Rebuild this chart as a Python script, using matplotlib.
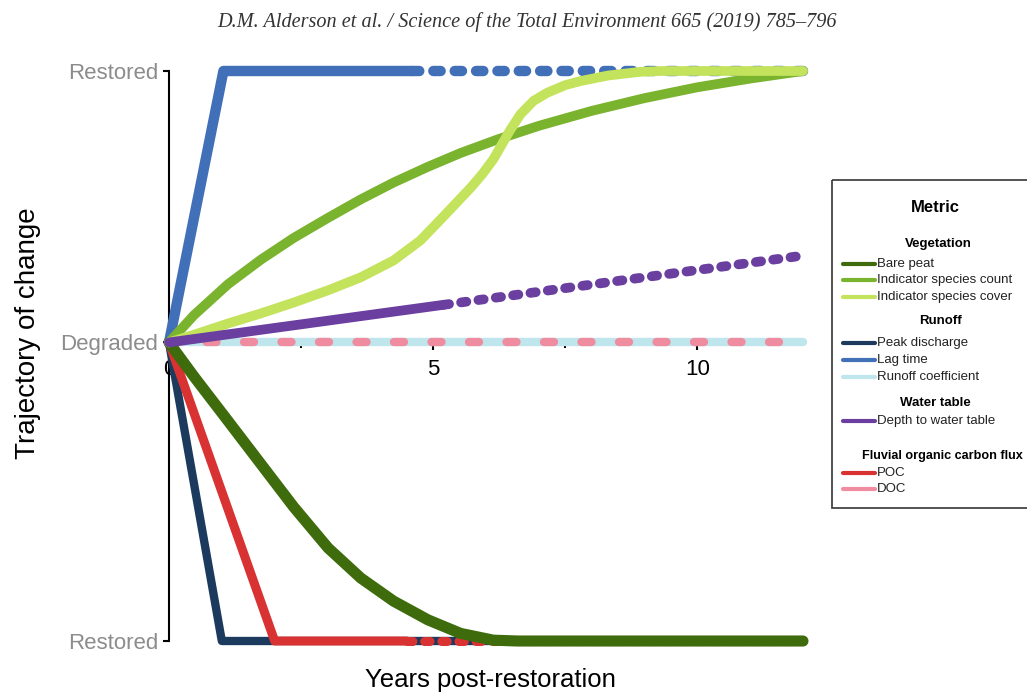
import numpy as np
import matplotlib.pyplot as plt
from matplotlib.patches import Rectangle

plt.rcParams['font.family'] = ['Liberation Sans', 'DejaVu Sans']

# --- data (0 = degraded, +1 / -1.1 = restored) ---
x_ticks = [0, 5, 10]
x_minor = [2.5, 7.5]
y_ticks = [-1.1, 0, 1]
y_labels = ['Restored', 'Degraded', 'Restored']

bare_peat_x = [0, 0.47, 1.12, 1.74, 2.36, 3.01, 3.63, 4.25, 4.90, 5.52, 6.14, 6.6, 12]
bare_peat_y = [0, -0.125, -0.29, -0.448, -0.606, -0.757, -0.868, -0.953, -1.022, -1.072, -1.097, -1.1, -1.1]

count_x = [0, 0.47, 1.12, 1.74, 2.36, 3.01, 3.63, 4.25, 4.90, 5.52, 6.22, 7.0, 8.0, 9.0, 10.0, 11.0, 12]
count_y = [0, 0.1, 0.215, 0.305, 0.385, 0.459, 0.527, 0.589, 0.647, 0.698, 0.748, 0.798, 0.853, 0.9, 0.94, 0.972, 1.0]

cover_x = [0, 0.5, 1.12, 1.74, 2.36, 3.01, 3.63, 4.25, 4.76, 5.20, 5.71, 5.93, 6.14, 6.45, 6.65, 6.9, 7.16, 7.5, 7.79, 8.3, 8.92, 9.3, 12]
cover_y = [0, 0.03, 0.07, 0.107, 0.147, 0.192, 0.24, 0.302, 0.376, 0.465, 0.57, 0.62, 0.675, 0.78, 0.84, 0.89, 0.92, 0.948, 0.963, 0.983, 0.997, 1.0, 1.0]

peak_x = [0, 1, 12]
peak_y = [0, -1.1, -1.1]

lag_x = [0, 1.03, 12]
lag_y = [0, 1, 1]
lag_obs_end = 4.6

runoff_x = [0, 12]
runoff_y = [0, 0]

depth_x = [0, 12]
depth_y = [0, 0.32]
depth_obs_end = 5.2

poc_x = [0, 2, 12]
poc_y = [0, -1.1, -1.1]
poc_obs_end = 4.5

doc_x = [0, 12]
doc_y = [0, 0]

c_bare = '#3e6b0c'
c_count = '#7ab32e'
c_cover = '#c4e35c'
c_peak = '#1c3a5e'
c_lag = '#4170b8'
c_runoff = '#bfe6ec'
c_depth = '#6a3fa0'
c_poc = '#d93232'
c_doc = '#f08ca0'

fig = plt.figure(figsize=(10.27, 6.93), dpi=100)
ax = fig.add_axes([169 / 1027, 52 / 693, 634 / 1027, 570 / 693])


def draw(x, y, color, lw, obs_end=None, dash=(0.5, 1.5)):
    x = np.asarray(x, float)
    y = np.asarray(y, float)
    kw = dict(color=color, lw=lw, clip_on=False, zorder=3,
              solid_capstyle='round', solid_joinstyle='round')
    if obs_end is None:
        ax.plot(x, y, **kw)
        return
    # solid for the observed part, dashed afterwards
    yb = np.interp(obs_end, x, y)
    m = x < obs_end
    ax.plot(np.r_[x[m], obs_end], np.r_[y[m], yb], **kw)
    ax.plot(np.r_[obs_end, x[~m]], np.r_[yb, y[~m]], linestyle=(0, dash),
            dash_capstyle='round', **kw)


draw(peak_x, peak_y, c_peak, 6)
draw(lag_x, lag_y, c_lag, 7.5, lag_obs_end, dash=(0.7, 1.35))
draw(runoff_x, runoff_y, c_runoff, 6)
draw(poc_x, poc_y, c_poc, 6.5, poc_obs_end, dash=(0.6, 1.3))
ax.plot(doc_x, doc_y, color=c_doc, lw=6, linestyle=(0, (1.2, 3.3)),
        dash_capstyle='round', clip_on=False, zorder=3)
draw(bare_peat_x, bare_peat_y, c_bare, 8)
draw(count_x, count_y, c_count, 7)
draw(cover_x, cover_y, c_cover, 7)
draw(depth_x, depth_y, c_depth, 7, depth_obs_end, dash=(0.55, 1.25))

# axes
ax.set_xlim(0, 12)
ax.set_ylim(-1.1, 1)
ax.set_axisbelow(True)
for s in ['top', 'right']:
    ax.spines[s].set_visible(False)
ax.spines['left'].set_bounds(-1.1, 1)
ax.spines['bottom'].set_position(('data', 0))
ax.spines['bottom'].set_bounds(0, 12)
for s in ['left', 'bottom']:
    ax.spines[s].set_linewidth(1.5)
    ax.spines[s].set_capstyle('projecting')

ax.set_xticks(x_ticks, [str(t) for t in x_ticks])
ax.set_xticks(x_minor, minor=True)
ax.tick_params(axis='x', which='major', length=6, width=1.5, labelsize=16, pad=6)
ax.tick_params(axis='x', which='minor', length=4, width=1.5)
ax.set_yticks(y_ticks, y_labels)
ax.tick_params(axis='y', length=4, width=1.5, labelsize=16, labelcolor='#8c8c8c', pad=4)

fig.text(28 / 1027, 1 - 333 / 693, 'Trajectory of change', rotation=90,
         ha='center', va='center', fontsize=20)
fig.text(490 / 1027, 1 - 680 / 693, 'Years post-restoration',
         ha='center', va='center', fontsize=18.5)
fig.text(527 / 1027, 1 - 22 / 693,
         'D.M. Alderson et al. / Science of the Total Environment 665 (2019) 785\u2013796',
         ha='center', va='center', fontsize=14.6, style='italic', color='#333333',
         family=['Liberation Serif', 'DejaVu Serif'])

# legend panel, drawn in pixel coordinates
lax = fig.add_axes([0, 0, 1, 1])
lax.set_xlim(0, 1027)
lax.set_ylim(693, 0)
lax.axis('off')
lax.add_patch(Rectangle((832, 180), 240, 328, fill=False, ec='#444444', lw=1.3))
lax.text(935, 207, 'Metric', ha='center', va='center', fontsize=12, weight='bold')

groups = ['Vegetation', 'Runoff', 'Water table', 'Fluvial organic carbon flux']
group_pos = [(938, 244), (941, 321), (935, 403), (942, 456)]
group_size = [9.5, 9.5, 9.5, 9.1]
for g, (gx, gy), fs in zip(groups, group_pos, group_size):
    lax.text(gx, gy, g, ha='center', va='center', fontsize=fs, weight='bold')

items = ['Bare peat', 'Indicator species count', 'Indicator species cover',
         'Peak discharge', 'Lag time', 'Runoff coefficient',
         'Depth to water table', 'POC', 'DOC']
item_colors = [c_bare, c_count, c_cover, c_peak, c_lag, c_runoff, c_depth, c_poc, c_doc]
item_y = [264, 280, 297, 343, 360, 377, 421, 473, 489]
for name, col, iy in zip(items, item_colors, item_y):
    lax.plot([843, 875], [iy, iy], color=col, lw=3, solid_capstyle='round')
    lax.text(877, iy, name, ha='left', va='center', fontsize=9.5, color='#222222')

fig.savefig('out.png', dpi=100)
